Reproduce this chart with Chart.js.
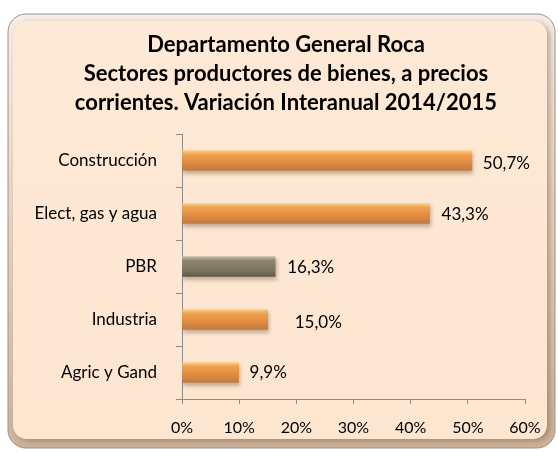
<!DOCTYPE html>
<html lang="es">
  <head>
    <meta charset="UTF-8" />
    <title>Departamento General Roca</title>
    <script src="https://cdn.jsdelivr.net/npm/chart.js"></script>
    <style>
      body { margin: 0; background: #fff; }
      canvas { display: block; }
    </style>
  </head>
  <body>
    <canvas id="chart" width="558" height="452"></canvas>
    <script>
      const sectores = ["Construcción", "Elect, gas y agua", "PBR", "Industria", "Agric y Gand"];
      const variacion = [50.7, 43.3, 16.3, 15.0, 9.9];
      const etiquetas = ["50,7%", "43,3%", "16,3%", "15,0%", "9,9%"];
      const titulo = [
        "Departamento General Roca",
        "Sectores productores de bienes, a precios",
        "corrientes. Variación Interanual 2014/2015"
      ];

      const FONT = "Lato, 'Open Sans', sans-serif";
      // nudges for the value labels (px), as placed in the original
      const labelDx = [11, 12, 12, 27, 11];
      const labelDy = [3, 1, 1, 3, 0];

      function roundRect(ctx, x, y, w, h, r) {
        ctx.beginPath();
        ctx.moveTo(x + r, y);
        ctx.arcTo(x + w, y, x + w, y + h, r);
        ctx.arcTo(x + w, y + h, x, y + h, r);
        ctx.arcTo(x, y + h, x, y, r);
        ctx.arcTo(x, y, x + w, y, r);
        ctx.closePath();
      }

      // peach bevelled frame, title and value labels
      const framePlugin = {
        id: 'frame',
        beforeDraw(chart) {
          const ctx = chart.ctx;
          ctx.save();
          let g = ctx.createLinearGradient(0, 14, 0, 448);
          g.addColorStop(0, '#f6efe8');
          g.addColorStop(0.5, '#e9d2bb');
          g.addColorStop(1, '#cdb39a');
          roundRect(ctx, 8, 14, 547, 434, 18);
          ctx.fillStyle = g;
          ctx.fill();
          ctx.strokeStyle = '#9b9088';
          ctx.lineWidth = 1;
          ctx.stroke();

          g = ctx.createLinearGradient(0, 20, 0, 440);
          g.addColorStop(0, '#fde9d6');
          g.addColorStop(1, '#fde6d0');
          ctx.shadowColor = 'rgba(120,90,60,0.5)';
          ctx.shadowBlur = 6;
          ctx.shadowOffsetX = 3;
          ctx.shadowOffsetY = 2;
          roundRect(ctx, 13, 21, 534, 418, 14);
          ctx.fillStyle = g;
          ctx.fill();
          ctx.restore();

          // title, centred over the plot like in the original
          ctx.save();
          ctx.font = "bold 22px " + FONT;
          ctx.fillStyle = '#000';
          ctx.textAlign = 'center';
          ctx.textBaseline = 'middle';
          titulo.forEach((line, i) => ctx.fillText(line, 286, 45 + 29 * i));
          ctx.restore();
        },
        beforeDatasetsDraw(chart) {
          const ctx = chart.ctx;
          ctx.save();
          ctx.shadowColor = 'rgba(90,60,30,0.35)';
          ctx.shadowBlur = 4;
          ctx.shadowOffsetX = 1;
          ctx.shadowOffsetY = 3;
        },
        afterDatasetsDraw(chart) {
          const ctx = chart.ctx;
          ctx.restore();
          ctx.save();
          ctx.font = "17px " + FONT;
          ctx.fillStyle = '#000';
          ctx.textBaseline = 'middle';
          ctx.textAlign = 'left';
          chart.getDatasetMeta(0).data.forEach((bar, i) => {
            ctx.fillText(etiquetas[i], bar.x + labelDx[i], bar.y + labelDy[i]);
          });
          ctx.restore();
        }
      };

      function barFill(context) {
        const chart = context.chart;
        const yScale = chart.scales.y;
        if (!yScale || !chart.chartArea) return '#e08a3e';
        const c = yScale.getPixelForValue(context.dataIndex);
        const g = chart.ctx.createLinearGradient(0, c - 10, 0, c + 10);
        if (sectores[context.dataIndex] === 'PBR') {
          g.addColorStop(0, '#c4bca4');
          g.addColorStop(0.2, '#8e8770');
          g.addColorStop(0.7, '#7a735e');
          g.addColorStop(1, '#5f5949');
        } else {
          g.addColorStop(0, '#f8d080');
          g.addColorStop(0.2, '#eea252');
          g.addColorStop(0.6, '#e28b3f');
          g.addColorStop(1, '#bf7a45');
        }
        return g;
      }

      new Chart(document.getElementById('chart'), {
        type: 'bar',
        data: {
          labels: sectores,
          datasets: [{
            data: variacion,
            backgroundColor: barFill,
            borderWidth: 0,
            barThickness: 20
          }]
        },
        options: {
          indexAxis: 'y',
          responsive: false,
          animation: false,
          layout: { padding: { left: 0, right: 33, top: 134, bottom: 0 } },
          plugins: {
            legend: { display: false },
            tooltip: { enabled: false },
            title: { display: false }
          },
          scales: {
            x: {
              min: 0,
              max: 60,
              ticks: {
                stepSize: 10,
                color: '#000',
                padding: 14,
                font: { family: FONT, size: 16 },
                callback: v => v + '%'
              },
              grid: { drawOnChartArea: false, color: '#8c8c8c', tickLength: 5 },
              border: { color: '#8c8c8c' },
              afterFit: s => { s.height = 53; }
            },
            y: {
              ticks: {
                color: '#000',
                padding: 19,
                font: { family: FONT, size: 17 }
              },
              grid: { drawOnChartArea: false, color: '#8c8c8c', tickLength: 6 },
              border: { color: '#8c8c8c' },
              afterFit: s => { s.width = 182; }
            }
          }
        },
        plugins: [framePlugin]
      });
    </script>
  </body>
</html>
